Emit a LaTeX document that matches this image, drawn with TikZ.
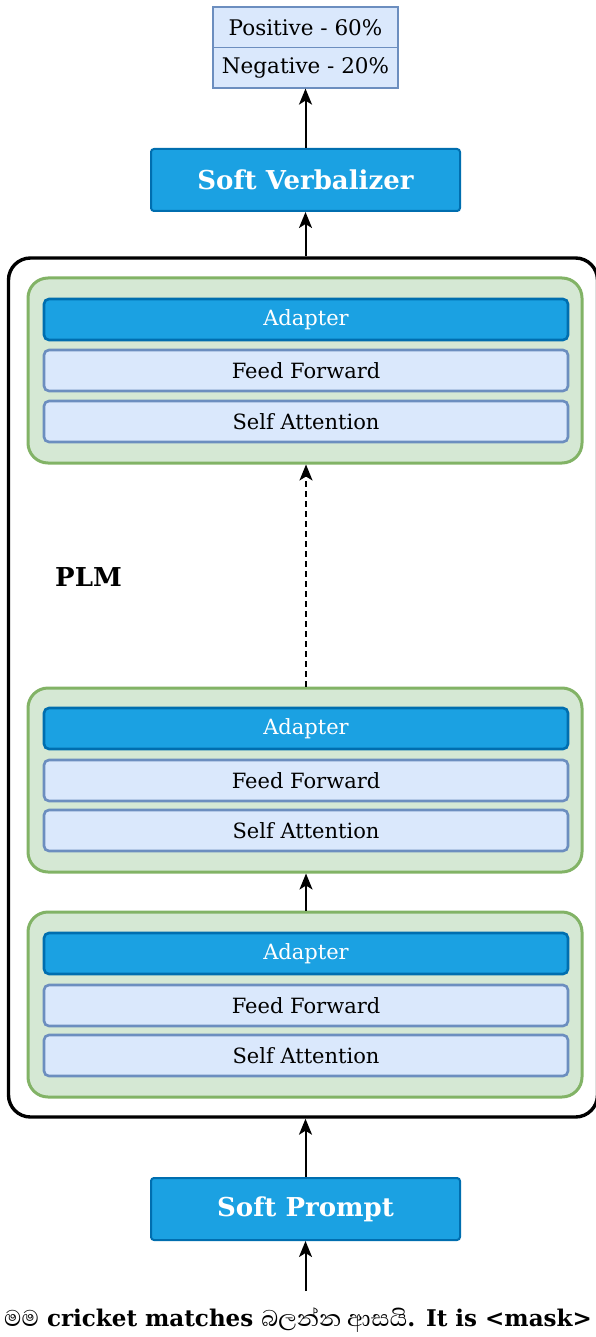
\documentclass[tikz,border=0pt]{standalone}
\usepackage{fontspec}
\setmainfont{DejaVu Serif}
\newfontfamily\sinhalafont[Script=Sinhala]{Abhaya Libre}
\usetikzlibrary{arrows.meta}
\definecolor{adapterfill}{HTML}{1BA1E2}
\definecolor{adapterline}{HTML}{006EAF}
\definecolor{subfill}{HTML}{DAE8FC}
\definecolor{subline}{HTML}{6C8EBF}
\definecolor{layerfill}{HTML}{D5E8D4}
\definecolor{layerline}{HTML}{82B366}
\tikzset{
  plmbox/.style={draw=black, line width=3.4pt, rounded corners=22pt},
  layerbox/.style={fill=layerfill, draw=layerline, line width=3pt, rounded corners=20pt},
  adapterbox/.style={fill=adapterfill, draw=adapterline, line width=2.6pt, rounded corners=5pt,
    minimum width=524pt, minimum height=41pt, inner sep=0pt, text=white, font=\fontsize{21}{24}\selectfont},
  subbox/.style={fill=subfill, draw=subline, line width=2.6pt, rounded corners=5pt,
    minimum width=524pt, minimum height=41pt, inner sep=0pt, font=\fontsize{21}{24}\selectfont},
  softbox/.style={fill=adapterfill, draw=adapterline, line width=2pt, rounded corners=3pt,
    minimum width=309pt, minimum height=62pt, inner sep=0pt, text=white,
    font=\bfseries\fontsize{26}{30}\selectfont},
  outbox/.style={fill=subfill, draw=subline, line width=1.2pt,
    minimum width=185pt, minimum height=40.5pt, inner sep=0pt, font=\fontsize{21.5}{24}\selectfont},
  flow/.style={-{Stealth[length=16pt,width=13pt,inset=4pt]}, line width=2pt},
  dashflow/.style={flow, dashed, dash pattern=on 6pt off 4pt}
}
\newcommand{\sinhalaword}[1]{{\sinhalafont\mdseries\fontsize{29}{32}\selectfont #1}}
\begin{document}
\begin{tikzpicture}[x=1pt,y=-1pt]
\useasboundingbox (0,0) rectangle (596,1337);

% output scores
\node[outbox] (pos) at (305.5,27.25) {Positive - 60\%};
\node[outbox] (neg) at (305.5,67.75) {Negative - 20\%};

% verbalizer
\node[softbox] (verb) at (305.5,180) {Soft Verbalizer};

% pretrained language model frame
\node[plmbox, minimum width=589pt, minimum height=859pt, inner sep=0pt] (plm) at (303,687.5) {};
\node[font=\bfseries\fontsize{26}{30}\selectfont, anchor=west, inner sep=0pt] (plmlabel) at (55,577) {PLM};

% top transformer layer
\node[layerbox, minimum width=554pt, minimum height=185pt] (L3) at (305,370.5) {};
\node[adapterbox] (a3) at (306,319.5) {Adapter};
\node[subbox] (f3) at (306,370.5) {Feed Forward};
\node[subbox] (s3) at (306,421.5) {Self Attention};

% middle transformer layer
\node[layerbox, minimum width=554pt, minimum height=184pt] (L2) at (305,780) {};
\node[adapterbox] (a2) at (306,728.5) {Adapter};
\node[subbox] (f2) at (306,780.5) {Feed Forward};
\node[subbox] (s2) at (306,830.5) {Self Attention};

% bottom transformer layer
\node[layerbox, minimum width=554pt, minimum height=185pt] (L1) at (305,1004.5) {};
\node[adapterbox] (a1) at (306,953.5) {Adapter};
\node[subbox] (f1) at (306,1005.5) {Feed Forward};
\node[subbox] (s1) at (306,1055.5) {Self Attention};

% soft prompt
\node[softbox] (prompt) at (305.5,1209) {Soft Prompt};

% input sentence
\coordinate (inp) at (305.5,1291);
\node[inner sep=0pt, font=\bfseries\fontsize{23}{28}\selectfont] (sent) at (298,1320)
  {\sinhalaword{මම} cricket matches \sinhalaword{බලන්න ආසයි}. It is <mask>};

% connectors
\draw[flow] (inp) -- (prompt.south);
\draw[flow] (prompt.north) -- (plm.south -| prompt.north);
\draw[flow] (L1.north -| f1.north) -- (L2.south -| f1.north);
\draw[dashflow] (L2.north -| f1.north) -- (L3.south -| f1.north);
\draw[flow] (plm.north -| verb.south) -- (verb.south);
\draw[flow] (verb.north) -- (neg.south -| verb.north);
\end{tikzpicture}
\end{document}
